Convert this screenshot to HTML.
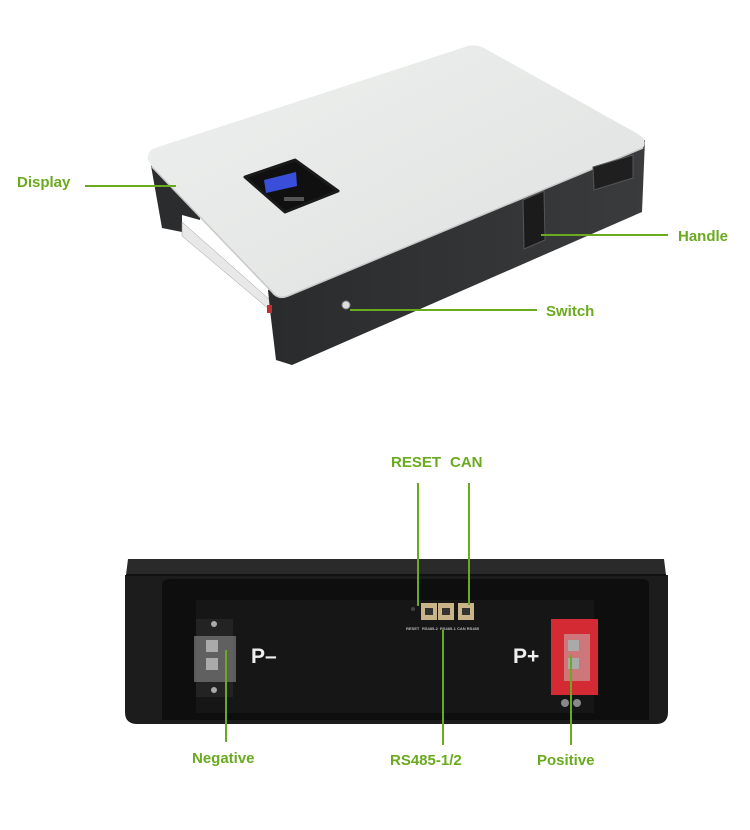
<!DOCTYPE html>
<html><head><meta charset="utf-8"><style>
html,body{margin:0;padding:0;background:#fff;}
svg{display:block;}
text{font-family:"Liberation Sans",sans-serif;font-weight:bold;}
</style></head><body>
<svg width="750" height="830" viewBox="0 0 750 830" xmlns="http://www.w3.org/2000/svg">
<defs>
<linearGradient id="top" x1="0" y1="0" x2="1" y2="1">
<stop offset="0" stop-color="#eef0ef"/><stop offset="1" stop-color="#dfe1e0"/></linearGradient>
<linearGradient id="side" x1="0" y1="0" x2="1" y2="0">
<stop offset="0" stop-color="#2a2b2c"/><stop offset="1" stop-color="#3a3b3d"/></linearGradient>
</defs>
<!-- top device -->
<polygon points="150,160 162,228 182,232 182,215 200,220 200,160" fill="#2b2c2d"/>
<polygon points="182,222 270,300 270,310 182,236" fill="#e8e8e8" stroke="#999" stroke-width="0.5"/>
<polygon points="268,290 645,140 642,212 292,365 276,360 270,310" fill="url(#side)"/>
<path d="M148,160 Q146,150 158,147 L468,46 Q476,44 484,48 L638,134 Q648,140 643,148 L288,296 Q278,300 272,292 L152,167 Z" fill="url(#top)"/>
<path d="M152,167 L272,292 Q278,300 288,296 L643,148" fill="none" stroke="#c8c8c8" stroke-width="1.5"/>
<polygon points="245,177 295,160 338,191 285,212" fill="#101010" stroke="#1a1a1a" stroke-width="3" stroke-linejoin="round"/>
<polygon points="264,180 296,172 297,186 266,193" fill="#3a4fd9"/>
<rect x="284" y="197" width="20" height="4" fill="#555"/>
<polygon points="523,200 544,191 545,240 524,249" fill="#1b1b1b" stroke="#555" stroke-width="1"/>
<polygon points="593,167 633,155 633,178 594,190" fill="#1f1f1f" stroke="#555" stroke-width="1"/>
<circle cx="346" cy="305" r="4" fill="#ddd" stroke="#888"/>
<rect x="267" y="305" width="5" height="8" fill="#c03030"/>
<!-- top labels -->
<g stroke="#6aaa1e" stroke-width="2">
<line x1="85" y1="186" x2="176" y2="186"/>
<line x1="541" y1="235" x2="668" y2="235"/>
<line x1="350" y1="310" x2="537" y2="310"/>
</g>
<g fill="#6aaa1e" font-size="15">
<text x="17" y="187">Display</text>
<text x="678" y="241">Handle</text>
<text x="546" y="316">Switch</text>
</g>
<!-- bottom device -->
<path d="M125,575 L668,575 L668,712 Q668,724 656,724 L137,724 Q125,724 125,712 Z" fill="#1c1c1c"/>
<path d="M128,559 L664,559 L666,575 L126,575 Z" fill="#2a2a2a"/>
<line x1="126" y1="575" x2="666" y2="575" stroke="#111" stroke-width="2"/>
<path d="M162,585 Q162,579 170,579 L641,579 Q649,579 649,585 L649,720 L162,720 Z" fill="#0e0e0e"/>
<rect x="196" y="600" width="398" height="113" fill="#161616"/>
<!-- negative terminal -->
<rect x="196" y="619" width="37" height="78" fill="#232323"/>
<rect x="194" y="636" width="42" height="46" fill="#7a7a7a" opacity="0.7"/>
<rect x="206" y="640" width="12" height="12" fill="#aaa"/>
<rect x="206" y="658" width="12" height="12" fill="#aaa"/>
<circle cx="214" cy="624" r="3" fill="#aaa"/>
<circle cx="214" cy="690" r="3" fill="#aaa"/>
<!-- positive terminal -->
<rect x="551" y="619" width="47" height="76" fill="#d42a33"/>
<rect x="564" y="634" width="26" height="47" fill="#c99" opacity="0.7"/>
<rect x="568" y="640" width="11" height="11" fill="#aaa"/>
<rect x="568" y="658" width="11" height="11" fill="#aaa"/>
<circle cx="565" cy="703" r="4" fill="#888"/>
<circle cx="577" cy="703" r="4" fill="#888"/>
<!-- ports -->
<circle cx="413" cy="609" r="2" fill="#444"/>
<rect x="421" y="603" width="16" height="17" fill="#c9b48a"/>
<rect x="438" y="603" width="16" height="17" fill="#c9b48a"/>
<rect x="458" y="603" width="16" height="17" fill="#c9b48a"/>
<rect x="425" y="608" width="8" height="7" fill="#333"/>
<rect x="442" y="608" width="8" height="7" fill="#333"/>
<rect x="462" y="608" width="8" height="7" fill="#333"/>
<g fill="#bbb" font-size="4" font-weight="normal">
<text x="406" y="630">RESET</text><text x="422" y="630">RS485-2</text><text x="440" y="630">RS485-1</text><text x="457" y="630">CAN RS485</text>
</g>
<g fill="#eee" font-size="21" style="font-weight:normal">
<text x="251" y="663">P–</text>
<text x="513" y="663">P+</text>
</g>
<!-- bottom labels -->
<g stroke="#6aaa1e" stroke-width="2">
<line x1="418" y1="483" x2="418" y2="606"/>
<line x1="469" y1="483" x2="469" y2="605"/>
<line x1="443" y1="630" x2="443" y2="745"/>
<line x1="226" y1="650" x2="226" y2="742"/>
<line x1="571" y1="655" x2="571" y2="745"/>
</g>
<g fill="#6aaa1e" font-size="15">
<text x="391" y="467">RESET</text>
<text x="450" y="467">CAN</text>
<text x="192" y="763">Negative</text>
<text x="390" y="765">RS485-1/2</text>
<text x="537" y="765">Positive</text>
</g>
</svg>
</body></html>
